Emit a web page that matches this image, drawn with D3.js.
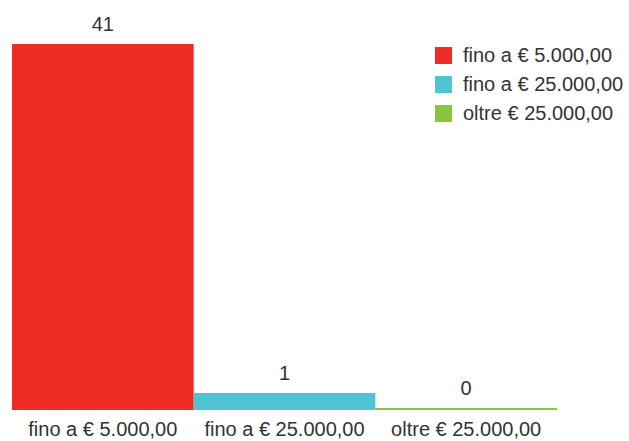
<!DOCTYPE html>
<html lang="it">
<head>
  <meta charset="UTF-8">
  <title>Importi</title>
  <script src="https://d3js.org/d3.v7.min.js"></script>
  <style>
    body {
      margin: 0;
      background: white;
    }
    text {
      font-family: "Liberation Sans Narrow", "Liberation Sans", Arial, sans-serif;
      fill: #333333;
    }
  </style>
</head>
<body>
  <div id="chart"></div>
  <script>
    const categories = ["fino a € 5.000,00", "fino a € 25.000,00", "oltre € 25.000,00"];
    const values = [41, 1, 0];
    const colors = ["#ee2b25", "#50c4d3", "#8bc43f"];

    const width = 629, height = 441;
    const margin = { top: 44, left: 12, right: 72, bottom: 31 };

    const svg = d3.select("#chart").append("svg")
      .attr("width", width)
      .attr("height", height);

    const x = d3.scaleBand()
      .domain(categories)
      .range([margin.left, width - margin.right])
      .padding(0);

    // the original keeps small bars visible, symlog gives the same look
    const y = d3.scaleSymlog()
      .constant(17)
      .domain([0, d3.max(values)])
      .range([height - margin.bottom, margin.top]);

    const data = categories.map((c, i) => ({ cat: c, value: values[i], color: colors[i] }));

    const barTop = d => Math.min(y(d.value), y(0) - 2);

    // bars (a zero value still shows a thin line)
    svg.append("g")
      .selectAll("rect")
      .data(data)
      .join("rect")
      .attr("x", d => x(d.cat))
      .attr("width", x.bandwidth())
      .attr("y", barTop)
      .attr("height", d => y(0) - barTop(d))
      .attr("fill", d => d.color);

    // value labels
    svg.append("g")
      .selectAll("text")
      .data(data)
      .join("text")
      .attr("x", d => x(d.cat) + x.bandwidth() / 2)
      .attr("y", d => barTop(d) - 13)
      .attr("text-anchor", "middle")
      .style("font-size", "20px")
      .text(d => d.value);

    // category labels
    svg.append("g")
      .selectAll("text")
      .data(data)
      .join("text")
      .attr("x", d => x(d.cat) + x.bandwidth() / 2)
      .attr("y", y(0) + 26)
      .attr("text-anchor", "middle")
      .style("font-size", "20px")
      .text(d => d.cat);

    // legend
    const legend = svg.append("g")
      .attr("transform", "translate(435,47)");

    const item = legend.selectAll("g")
      .data(data)
      .join("g")
      .attr("transform", (d, i) => `translate(0,${i * 29})`);

    item.append("rect")
      .attr("width", 17)
      .attr("height", 17)
      .attr("fill", d => d.color);

    item.append("text")
      .attr("x", 28)
      .attr("y", 15)
      .style("font-size", "20px")
      .text(d => d.cat);
  </script>
</body>
</html>
